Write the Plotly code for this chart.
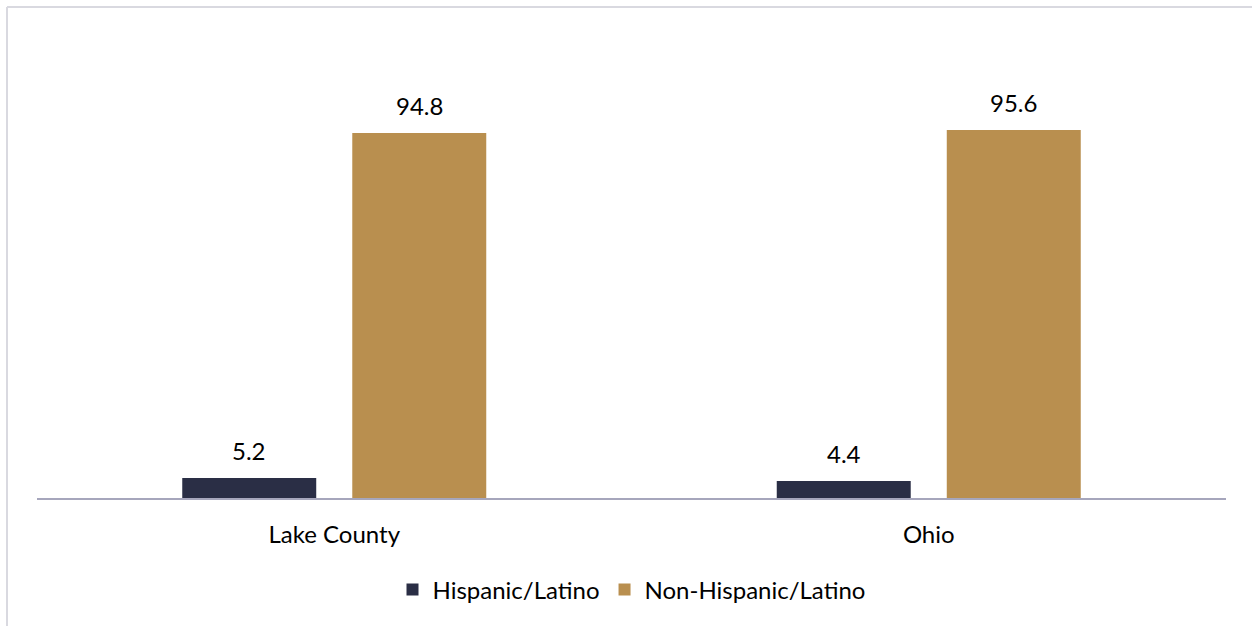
import plotly.graph_objects as go

categories = ["Lake County", "Ohio"]
hispanic = [5.2, 4.4]
non_hispanic = [94.8, 95.6]
series_names = ["Hispanic/Latino", "Non-Hispanic/Latino"]
colors = ["#2a2e45", "#b98f4f"]

W, H = 1252, 626
L, R, T, B = 37, 26, 113, 128
font_family = "Lato, Open Sans, sans-serif"
FS = 24
BARGAP = 0.428
GROUPGAP = 0.212

fig = go.Figure()
series = [hispanic, non_hispanic]
for j, (name, vals) in enumerate(zip(series_names, series)):
    fig.add_trace(go.Bar(x=categories, y=vals, name=name, marker_color=colors[j],
                         marker_line_width=0))

# value labels above bars
slot = (1 - BARGAP) / len(series)
annotations = []
for j, vals in enumerate(series):
    off = (j - (len(series) - 1) / 2) * slot
    for i, v in enumerate(vals):
        annotations.append(dict(x=i + off, y=v, xref="x", yref="y", text=f"{v:.1f}",
                                showarrow=False, yanchor="bottom", yshift=11,
                                font=dict(size=FS, color="#000000", family=font_family)))

pw = W - L - R
ph = H - T - B
x0 = (7 - L) / pw
x1 = (W + 5 - L) / pw
y_top = (H - B - 7) / ph

fig.update_layout(
    width=W, height=H,
    margin=dict(l=L, r=R, t=T, b=B),
    paper_bgcolor="white", plot_bgcolor="white",
    barmode="group", bargap=BARGAP, bargroupgap=GROUPGAP,
    font=dict(family=font_family, size=FS, color="#000000"),
    showlegend=True,
    legend=dict(orientation="h", x=0.5, xanchor="center", y=-0.239, yanchor="middle",
                font=dict(size=FS), traceorder="normal"),
    xaxis=dict(showline=True, linecolor="#a6a6bc", linewidth=2, ticks="",
               tickfont=dict(size=FS), showgrid=False, ticklabelstandoff=14),
    yaxis=dict(range=[0, 100], visible=False, showgrid=False),
    annotations=annotations,
    shapes=[
        dict(type="line", xref="paper", yref="paper", x0=x0, x1=x0, y0=-1, y1=y_top,
             line=dict(color="#d9d9e0", width=2)),
        dict(type="line", xref="paper", yref="paper", x0=x0, x1=x1, y0=y_top, y1=y_top,
             line=dict(color="#d9d9e0", width=2)),
    ],
)

fig.write_html("out.html", config={"displayModeBar": False},
               post_script="document.body.style.margin='0px';")
